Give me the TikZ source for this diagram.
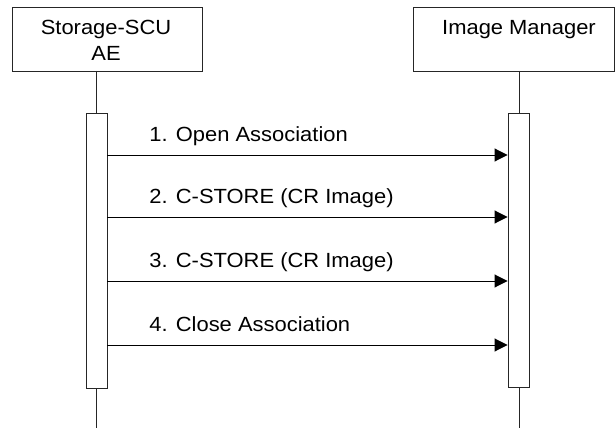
\documentclass[tikz,border=0pt]{standalone}
\usepackage{fontspec}
\setmainfont{Liberation Sans}[FakeStretch=1.07]
\usetikzlibrary{arrows.meta}
\begin{document}
\begin{tikzpicture}[x=1pt,y=-1pt,
  line width=0.9pt,
  txt/.style={font=\fontsize{20.5}{25}\selectfont, inner sep=0pt},
  actor/.style={draw=black!85, fill=white, minimum width=190pt, minimum height=64pt, inner sep=0pt, anchor=north west},
  act/.style={draw=black!85, fill=white, minimum width=21pt, minimum height=275pt, inner sep=0pt, anchor=north},
  msg/.style={-{Triangle[length=13pt,width=13pt]}, draw=black},
  lbl/.style={txt, anchor=base west}
]
\useasboundingbox (0,0) rectangle (616,428);
% actors
\node[actor] (scu) at (12,7) {};
\node[actor, minimum width=201pt] (im) at (413,7) {};
\node[txt, anchor=base] (scut) at (106,35) {Storage-SCU};
\node[txt, anchor=base] (scut2) at (106,61) {AE};
\node[txt, anchor=base] (imt) at (519,35) {Image Manager};
% lifelines
\coordinate (l1t) at (96,71);
\coordinate (l1b) at (96,428);
\coordinate (l2t) at (519,71);
\coordinate (l2b) at (519,428);
\draw[black!85] (l1t) -- (l1b);
\draw[black!85] (l2t) -- (l2b);
% activations
\node[act] (a1) at (96.5,113) {};
\node[act, minimum height=274pt] (a2) at (518.5,113) {};
% messages
\foreach \y/\t [count=\i] in {155/{1. Open Association},217/{2. C-STORE (CR Image)},281/{3. C-STORE (CR Image)},345/{4. Close Association}}{
  \coordinate (s\i) at (a1.east |- 0,\y);
  \coordinate (e\i) at (a2.west |- 0,\y);
  \draw[msg] (s\i) -- (e\i);
  \node[lbl] (m\i) at (149,\y-14) {\t};
}
\end{tikzpicture}
\end{document}
